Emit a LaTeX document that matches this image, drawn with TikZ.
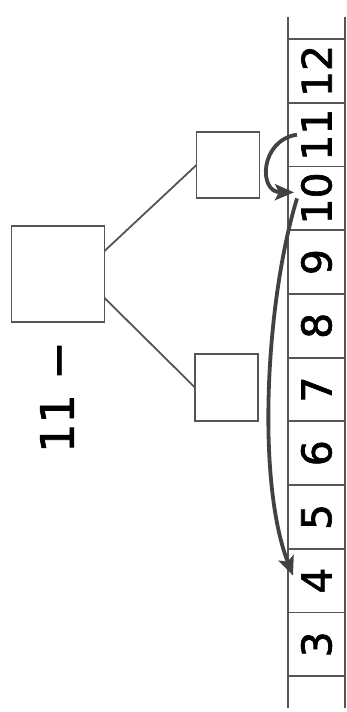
\documentclass[tikz,border=0pt]{standalone}
\usepackage{fontspec}
\usepackage{graphicx}
\newfontfamily\digitfont[FakeBold=1.6]{DejaVu Sans}
\usetikzlibrary{positioning}
\usetikzlibrary{arrows.meta}
\definecolor{linegray}{HTML}{555555}
\definecolor{arrowgray}{HTML}{424242}

\begin{document}
\begin{tikzpicture}[
  x=1pt, y=-1pt,
  cellnode/.style={draw=linegray,line width=1.8pt,minimum width=57pt,minimum height=63.7pt,inner sep=0pt,outer sep=0pt,font=\digitfont\fontsize{41}{48}\selectfont},
  boxnode/.style={draw=linegray,line width=1.8pt,inner sep=0pt,outer sep=0pt},
  jump/.style={-{Stealth[length=19pt,width=16pt,inset=4pt]},line width=3.8pt,draw=arrowgray}
]
\useasboundingbox (0,0) rectangle (347,712);

% number line
\node[cellnode] at (316.5,71) (c12) {\rotatebox{90}{12}};
\node[cellnode, below=0pt of c12] (c11) {\rotatebox{90}{11}};
\node[cellnode, below=0pt of c11] (c10) {\rotatebox{90}{10}};
\node[cellnode, below=0pt of c10] (c9) {\rotatebox{90}{9}};
\node[cellnode, below=0pt of c9] (c8) {\rotatebox{90}{8}};
\node[cellnode, below=0pt of c8] (c7) {\rotatebox{90}{7}};
\node[cellnode, below=0pt of c7] (c6) {\rotatebox{90}{6}};
\node[cellnode, below=0pt of c6] (c5) {\rotatebox{90}{5}};
\node[cellnode, below=0pt of c5] (c4) {\rotatebox{90}{4}};
\node[cellnode, below=0pt of c4] (c3) {\rotatebox{90}{3}};

\coordinate (topL) at (288,17);
\coordinate (topR) at (345,17);
\coordinate (botL) at (288,708);
\coordinate (botR) at (345,708);
\draw[linegray, line width=1.8pt] (topL) -- (botL);
\draw[linegray, line width=1.8pt] (topR) -- (botR);

% number bond
\node[boxnode, minimum width=93pt, minimum height=96pt] at (58,274) (whole) {};
\node[boxnode, minimum width=63pt, minimum height=66pt] at (228,165) (partA) {};
\node[boxnode, minimum width=63pt, minimum height=67pt] at (226.5,387.5) (partB) {};
\draw[linegray, line width=1.8pt] ([yshift=23pt]whole.east) -- (partA.west);
\draw[linegray, line width=1.8pt] ([yshift=-24pt]whole.east) -- (partB.west);

\node[font=\digitfont\fontsize{46}{52}\selectfont, rotate=90] at (57,397) (task) {11 −};

% jumps
\coordinate (from11) at ([xshift=9pt]c11.west);
\coordinate (to10) at ([xshift=6pt,yshift=6pt]c10.west);
\coordinate (from10) at ([xshift=9pt]c10.west);
\coordinate (to4) at ([xshift=5pt,yshift=5pt]c4.west);
\draw[jump] (from11) .. controls (260,140) and (258,192) .. (to10);
\draw[jump] (from10) .. controls (266,300) and (256,480) .. (to4);

\end{tikzpicture}
\end{document}
